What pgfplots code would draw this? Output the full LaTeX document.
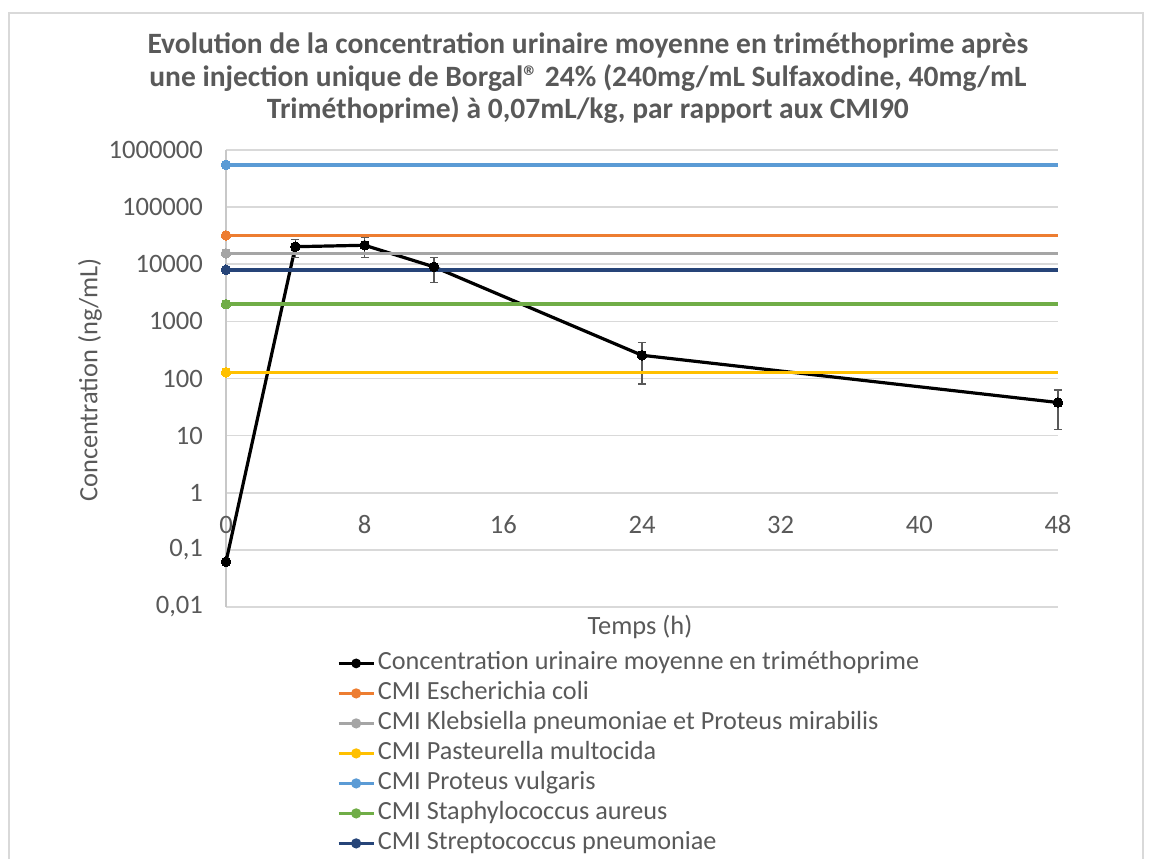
\documentclass[border=0pt]{standalone}
\usepackage{fontspec}
\setmainfont{Carlito}
\usepackage{pgfplots}
\pgfplotsset{compat=1.18}
\definecolor{txt}{RGB}{89,89,89}
\definecolor{gridc}{RGB}{217,217,217}
\definecolor{axc}{RGB}{200,200,200}
\definecolor{cmiorange}{RGB}{237,125,49}
\definecolor{cmigray}{RGB}{165,165,165}
\definecolor{cmiyellow}{RGB}{255,192,0}
\definecolor{cmiblue}{RGB}{91,155,213}
\definecolor{cmigreen}{RGB}{112,173,71}
\definecolor{cmidark}{RGB}{38,68,120}
\definecolor{errc}{RGB}{89,89,89}

\pgfplotsset{
    cmi/.style={color=#1, line width=1.8pt, mark=*, mark size=2.4pt,
        mark options={line width=0pt}, mark indices={1}},
}

\begin{document}
\begin{tikzpicture}[x=0.5pt,y=0.5pt]
% picture in pixel units of the reference (1152 x 859), y upwards
\path[use as bounding box] (0,0) rectangle (1152,859);
\draw[gridc, line width=1pt] (8.5,0) -- (8.5,846) -- (1143,846) -- (1143,0);

\begin{axis}[
    at={(113pt,126pt)}, anchor=south west,
    scale only axis, width=416pt, height=228.5pt,
    ymode=log,
    xmin=0, xmax=48, ymin=0.01, ymax=1000000,
    axis x line=middle, axis y line=left,
    hide obscured x ticks=false,
    every inner x axis line/.append style={-},
    axis line style={-},
    x axis line style={gridc, line width=0.8pt},
    y axis line style={axc, line width=0.8pt},
    clip=false,
    major tick length=0pt, minor tick length=0pt,
    xtick={0,8,16,24,32,40,48},
    xticklabels={0,8,16,24,32,40,48},
    ytick={0.01,0.1,1,10,100,1000,10000,100000,1000000},
    yticklabels={{0,01},{0,1},1,10,100,1000,10000,100000,1000000},
    ymajorgrids,
    major grid style={gridc, line width=0.8pt},
    tick label style={font=\fontsize{13.3}{15}\selectfont, text=txt},
    xticklabel style={anchor=north, yshift=-8pt},
    yticklabel style={anchor=east, xshift=-8pt},
    xlabel={Temps (h)},
    ylabel={Concentration (ng/mL)},
    label style={font=\fontsize{13.2}{15}\selectfont, text=txt},
    xlabel style={at={(axis description cs:0.4976,-0.0438)}, anchor=center},
    ylabel style={at={(axis description cs:-0.1635,0.497)}, anchor=center, rotate=0},
    every axis title shift=0pt,
    title={Evolution de la concentration urinaire moyenne en triméthoprime après\\une injection unique de Borgal® 24\% (240mg/mL Sulfaxodine, 40mg/mL\\Triméthoprime) à 0,07mL/kg, par rapport aux CMI90},
    title style={at={(axis description cs:0.435,1.1565)}, anchor=center, align=center,
        font=\fontsize{14.75}{16.25}\selectfont\bfseries, text=txt},
    legend style={at={(axis description cs:0.1335,-0.0897)}, anchor=north west,
        draw=none, fill=none, inner sep=0pt, row sep=0pt,
        font=\fontsize{13.1}{15}\selectfont, text=txt,
        nodes={inner ysep=0pt, inner xsep=1.5pt, text height=10.5pt, text depth=4.5pt}},
    legend cell align=left,
    legend image code/.code={
        \draw[#1, mark=none, line width=1.2pt] (0pt,0pt) -- (17.5pt,0pt);
        \fill[#1] (8.75pt,0pt) circle (1.6pt);
    },
]
% mean urinary concentration with error bars
\addplot[color=black, line width=1.6pt, mark=*, mark size=2.4pt,
    mark options={line width=0pt},
    error bars/.cd, y dir=both, y explicit,
    error bar style={errc, line width=0.6pt},
    error mark options={errc, rotate=90, mark size=2pt, line width=0.6pt}]
coordinates {
    (0,0.062) +- (0,0)
    (4,20300) +- (0,7000)
    (8,21500) +- (0,8300)
    (12,9000) +- (0,4200)
    (24,255) +- (0,175)
    (48,38) +- (0,25)
};
\addlegendentry{Concentration urinaire moyenne en triméthoprime}

\addplot[cmi=cmiorange] coordinates {(0,32000) (48,32000)};
\addlegendentry{CMI Escherichia coli}

\addplot[cmi=cmigray] coordinates {(0,15500) (48,15500)};
\addlegendentry{CMI Klebsiella pneumoniae et Proteus mirabilis}

\addplot[cmi=cmiyellow] coordinates {(0,128) (48,128)};
\addlegendentry{CMI Pasteurella multocida}

\addplot[cmi=cmiblue] coordinates {(0,550000) (48,550000)};
\addlegendentry{CMI Proteus vulgaris}

\addplot[cmi=cmigreen] coordinates {(0,2000) (48,2000)};
\addlegendentry{CMI Staphylococcus aureus}

\addplot[cmi=cmidark] coordinates {(0,8000) (48,8000)};
\addlegendentry{CMI Streptococcus pneumoniae}
\end{axis}
\end{tikzpicture}
\end{document}
